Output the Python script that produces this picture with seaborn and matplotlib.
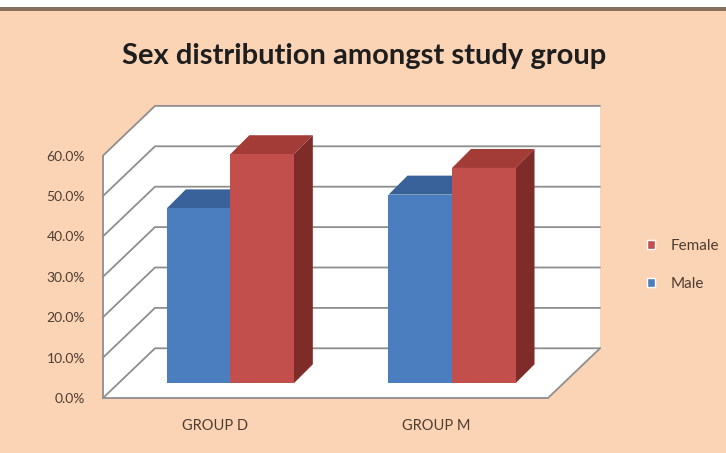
import numpy as np
import pandas as pd
import matplotlib
matplotlib.use("Agg")
import matplotlib.pyplot as plt
import seaborn as sns
from matplotlib.patches import Polygon, Rectangle

# ---- data ----
groups = ["GROUP D", "GROUP M"]
male = [43.3, 46.7]
female = [56.7, 53.3]
y_ticks = [0, 10, 20, 30, 40, 50, 60]
y_tick_labels = ["0.0%", "10.0%", "20.0%", "30.0%", "40.0%", "50.0%", "60.0%"]
title = "Sex distribution amongst study group"

# ---- style ----
PEACH = "#FBD4B6"
BLUE, RED = "#4A7EBF", "#C24F4B"
TOP = {"Male": "#3A629A", "Female": "#A33B37"}
SIDE = {"Male": "#2E4F7E", "Female": "#7E2B29"}
GRID = "#8E8E8E"
TXT = "#4E3D32"

sns.set_theme(style="white")
plt.rcParams["font.family"] = ["Lato", "DejaVu Sans"]

df = pd.DataFrame({
    "group": groups * 2,
    "sex": ["Male"] * len(groups) + ["Female"] * len(groups),
    "pct": male + female,
})

W, H = 726, 453
fig = plt.figure(figsize=(W / 100, H / 100), dpi=100, facecolor=PEACH)
# top white strip and dark rule
fig.patches.append(Rectangle((0, 1 - 8 / H), 1, 8 / H, transform=fig.transFigure,
                             facecolor="white", edgecolor="none", zorder=0))
fig.patches.append(Rectangle((0, 1 - 11 / H), 1, 3.5 / H, transform=fig.transFigure,
                             facecolor="#85705F", edgecolor="none", zorder=0))

ax_l, ax_r, ax_t, ax_b = 100, 610, 100, 405
ax = fig.add_axes([ax_l / W, 1 - ax_b / H, (ax_r - ax_l) / W, (ax_b - ax_t) / H])
ax.set_facecolor("none")

sns.barplot(data=df, x="group", y="pct", hue="sex", hue_order=["Male", "Female"],
            palette=[BLUE, RED], width=0.573, saturation=1, ax=ax, legend=False,
            linewidth=0, errorbar=None)
bars = list(ax.patches)

# pixel -> data scale
px_per_x = 221.7
px_per_y = 4.04
x0_px, y0_px = 230.3, 383.3
ax.set_xlim((ax_l - x0_px) / px_per_x, (ax_r - x0_px) / px_per_x)
ax.set_ylim((y0_px - ax_b) / px_per_y, (y0_px - ax_t) / px_per_y)

# oblique offsets (data units)
bdx, bdy = 36.6 / px_per_x, 35.0 / px_per_y     # back wall
fdx, fdy = -15.4 / px_per_x, -14.7 / px_per_y   # front of floor
ddx, ddy = 19.0 / px_per_x, 19.0 / px_per_y     # bar depth
xl, xr = (155 - 36.6 - x0_px) / px_per_x, (600 - 36.6 - x0_px) / px_per_x
ymax = y_ticks[-1]

# walls
back = Polygon([(xl + bdx, bdy), (xr + bdx, bdy), (xr + bdx, ymax + bdy), (xl + bdx, ymax + bdy)],
               closed=True, facecolor="white", edgecolor="none", zorder=0.5)
side = Polygon([(xl + fdx, fdy), (xl + bdx, bdy), (xl + bdx, ymax + bdy), (xl + fdx, ymax + fdy)],
               closed=True, facecolor="white", edgecolor="none", zorder=0.5)
floor = Polygon([(xl + fdx, fdy), (xr + fdx, fdy), (xr + bdx, bdy), (xl + bdx, bdy)],
                closed=True, facecolor="white", edgecolor="none", zorder=0.5)
for p in (back, side, floor):
    ax.add_patch(p)

for t in y_ticks:
    ax.plot([xl + fdx, xl + bdx, xr + bdx], [t + fdy, t + bdy, t + bdy],
            color=GRID, lw=1.3, zorder=0.6, solid_joinstyle="miter")
ax.plot([xl + fdx, xl + fdx], [fdy, ymax + fdy], color=GRID, lw=1.3, zorder=0.6)
ax.plot([xl + fdx, xr + fdx, xr + bdx], [fdy, fdy, bdy], color=GRID, lw=1.3, zorder=0.6)

# 3D faces of bars
for p in bars:
    fc = matplotlib.colors.to_hex(p.get_facecolor())
    sex = "Male" if fc.lower() == BLUE.lower() else "Female"
    x, w, h = p.get_x(), p.get_width(), p.get_height()
    p.set_zorder(2)
    ax.add_patch(Polygon([(x, h), (x + w, h), (x + w + ddx, h + ddy), (x + ddx, h + ddy)],
                         closed=True, facecolor=TOP[sex], edgecolor="none", zorder=1.5))
    ax.add_patch(Polygon([(x + w, 0), (x + w + ddx, ddy), (x + w + ddx, h + ddy), (x + w, h)],
                         closed=True, facecolor=SIDE[sex], edgecolor="none", zorder=1.5))

# ticks
ax.set_yticks([t + fdy for t in y_ticks], y_tick_labels)
ax.set_xticks([i + fdx for i in range(len(groups))], groups)
ax.tick_params(axis="y", length=0, pad=10.8, labelsize=10, labelcolor=TXT)
ax.tick_params(axis="x", length=0, pad=10, labelsize=10.5, labelcolor=TXT)
ax.set_xlabel("")
ax.set_ylabel("")
for s in ax.spines.values():
    s.set_visible(False)

# title
fig.text(364 / W, 1 - 56 / H, title, ha="center", va="center", fontsize=21,
         fontweight="bold", color="#1E1E1E")

# legend
handles = [Rectangle((0, 0), 1, 1, facecolor=RED), Rectangle((0, 0), 1, 1, facecolor=BLUE)]
fig.legend(handles, ["Female", "Male"], loc="center left",
           bbox_to_anchor=(633 / W, 1 - 265 / H), frameon=False, fontsize=11,
           handlelength=0.55, handleheight=0.55, handletextpad=1.0, labelspacing=1.6,
           labelcolor=TXT)

fig.savefig("out.png", dpi=100, facecolor=PEACH)
